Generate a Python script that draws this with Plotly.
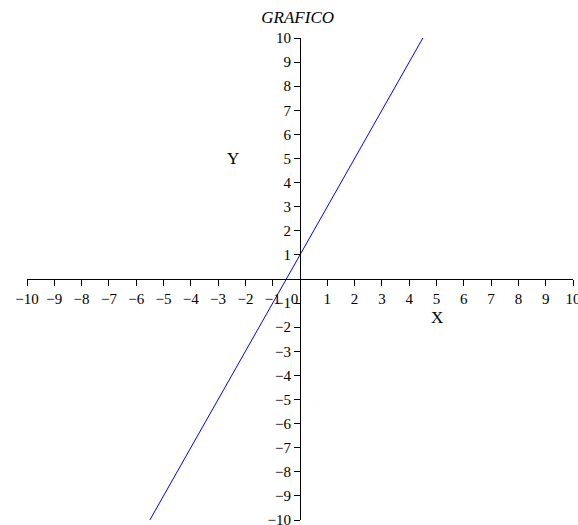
import plotly.graph_objects as go

# Line y = 2x + 1 sampled at its end points
line_x = [-5.5, 4.5]
line_y = [-10.0, 10.0]

x_ticks = list(range(-10, 11))
y_ticks = [v for v in range(-10, 11) if v != 0]

serif = "Liberation Serif, Times New Roman, serif"
nbsp = "\u00a0"

# The origin label sits just left of the vertical axis line
x_tick_text = [("0" + nbsp * 3) if v == 0 else str(v).replace("-", "\u2212") for v in x_ticks]

fig = go.Figure()
fig.add_trace(go.Scatter(x=line_x, y=line_y, mode="lines",
                         line=dict(color="#0000ff", width=1),
                         showlegend=False, hoverinfo="skip"))

axis_common = dict(
    showgrid=False, zeroline=False, showline=True, linecolor="black",
    linewidth=1, ticks="outside", ticklen=6, tickcolor="black",
    tickwidth=1, tickfont=dict(family=serif, size=15, color="black"),
    range=[-10, 10], anchor="free", position=0.5,
    ticklabeloverflow="allow", automargin=False,
)

fig.update_layout(
    width=578, height=525,
    margin=dict(l=27, r=5, t=38, b=5, autoexpand=False),
    paper_bgcolor="white", plot_bgcolor="white",
    xaxis=dict(tickvals=x_ticks, ticktext=x_tick_text, **axis_common),
    yaxis=dict(tickvals=y_ticks, **axis_common),
    title=dict(text="<i>GRAFICO</i>", x=0.515, xanchor="center",
               y=0.967, yanchor="middle",
               font=dict(family=serif, size=17, color="black")),
    annotations=[
        dict(x=5.0, y=-1.6, text="X", showarrow=False,
             font=dict(family=serif, size=17, color="black")),
        dict(x=-2.45, y=5.0, text="Y", showarrow=False,
             font=dict(family=serif, size=17, color="black")),
    ],
)

fig.write_html("out.html")
